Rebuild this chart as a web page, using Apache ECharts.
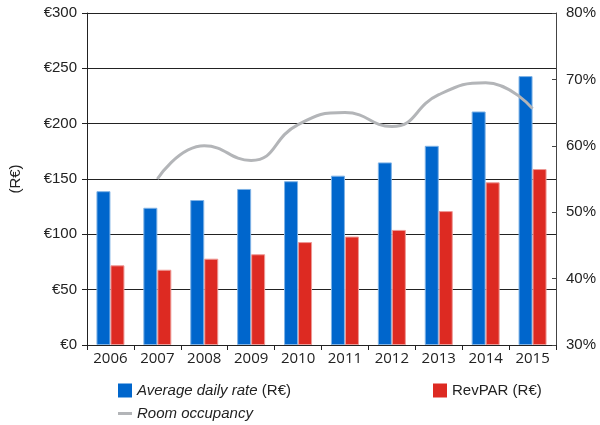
<!DOCTYPE html>
<html><head><meta charset="utf-8">
<script src="https://cdn.jsdelivr.net/npm/echarts@6/dist/echarts.min.js"></script>
<style>html,body{margin:0;padding:0;background:#fff}#c{width:600px;height:425px}</style>
</head><body><div id="c"></div>
<script>
const categories = ['2006','2007','2008','2009','2010','2011','2012','2013','2014','2015'];
const averageDailyRate = [139, 124, 131, 141, 148, 153, 165, 180, 211, 243];
const revPAR = [72, 68, 78, 82, 93, 98, 104, 121, 147, 159];
const roomOccupancy = [null, 55, 60, 57.8, 63.2, 65, 62.9, 67.7, 69.5, 65.6];
const leftTicks = [0, 50, 100, 150, 200, 250, 300];
const rightTicks = [30, 40, 50, 60, 70, 80];

const chart = echarts.init(document.getElementById('c'));
const fontMain = 'Liberation Sans, Arial, sans-serif';
chart.setOption({
  animation: false,
  grid: {left: 87, right: 44, top: 13, bottom: 80},
  legend: [
    {left: 113, top: 378, itemWidth: 14, itemHeight: 14, itemGap: 0,
     itemStyle: {borderWidth: 0},
     data: [{name: 'Average daily rate', icon: 'rect'}],
     formatter: () => '{i|Average daily rate}{n| (R€)}',
     textStyle: {rich: {i: {fontStyle: 'italic', fontFamily: fontMain, fontSize: 15, color: '#222'},
                        n: {fontFamily: fontMain, fontSize: 15, color: '#222'}}}},
    {left: 428, top: 378, itemWidth: 14, itemHeight: 14,
     itemStyle: {borderWidth: 0},
     data: [{name: 'RevPAR', icon: 'rect'}],
     formatter: () => '{n|RevPAR (R€)}',
     textStyle: {rich: {n: {fontFamily: fontMain, fontSize: 15, color: '#222'}}}},
    {left: 113, top: 401, itemWidth: 14, itemHeight: 3,
     data: [{name: 'Room occupancy', icon: 'rect', itemStyle: {color: '#b3b5b8', borderWidth: 0}}],
     formatter: () => '{i|Room occupancy}',
     textStyle: {rich: {i: {fontStyle: 'italic', fontFamily: fontMain, fontSize: 15, color: '#222'}}}}
  ],
  xAxis: {
    type: 'category', data: categories,
    axisLine: {lineStyle: {color: '#222', width: 1}},
    axisTick: {show: true, alignWithLabel: false, length: 5, lineStyle: {color: '#222'}},
    axisLabel: {color: '#222', fontSize: 15, fontFamily: 'Open Sans, sans-serif', margin: 6}
  },
  yAxis: [
    {type: 'value', min: leftTicks[0], max: leftTicks[leftTicks.length-1], interval: 50,
     name: '(R€)', nameLocation: 'middle', nameGap: 64, nameRotate: 90,
     nameTextStyle: {color: '#222', fontSize: 15, fontFamily: fontMain},
     axisLine: {show: true, lineStyle: {color: '#222'}},
     axisTick: {show: true, length: 5, lineStyle: {color: '#222'}},
     axisLabel: {color: '#222', fontSize: 15, fontFamily: fontMain, margin: 10, formatter: v => '€' + v},
     splitLine: {show: true, lineStyle: {color: '#222', width: 1}}},
    {type: 'value', min: rightTicks[0], max: rightTicks[rightTicks.length-1], interval: 10,
     position: 'right',
     axisLine: {show: true, lineStyle: {color: '#444'}},
     axisTick: {show: true, length: 4, inside: true, lineStyle: {color: '#444'}},
     axisLabel: {color: '#222', fontSize: 15, fontFamily: fontMain, margin: 10, formatter: v => v + '%'},
     splitLine: {show: false}}
  ],
  series: [
    {name: 'Average daily rate', type: 'bar', data: averageDailyRate, barWidth: 14, barGap: '0%',
     itemStyle: {color: '#0066cc', borderColor: '#7fb3e6', borderWidth: 1}},
    {name: 'RevPAR', type: 'bar', data: revPAR, barWidth: 14, barGap: '0%',
     itemStyle: {color: '#dd2a22', borderColor: '#ee9a96', borderWidth: 1}},
    {name: 'Room occupancy', type: 'line', yAxisIndex: 1, data: roomOccupancy, smooth: true,
     showSymbol: false, symbol: 'none', connectNulls: false,
     lineStyle: {color: '#b3b5b8', width: 3}, itemStyle: {color: '#b3b5b8'}}
  ]
});
</script></body></html>
